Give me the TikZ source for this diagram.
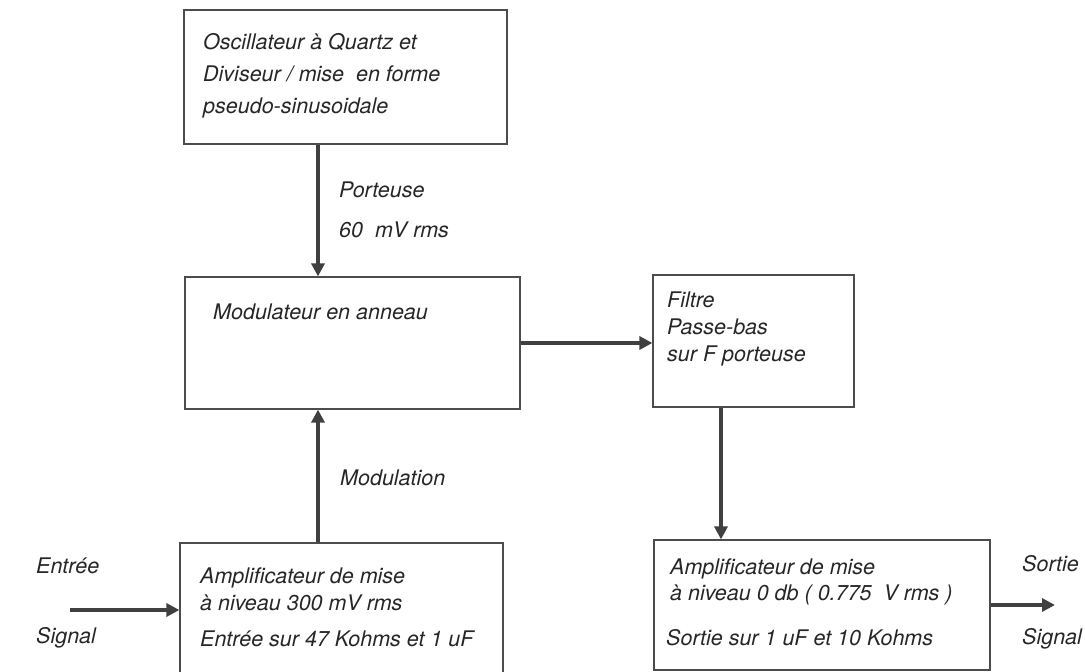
\documentclass[tikz,border=0pt]{standalone}
\usepackage{fontspec}
\setmainfont{TeX Gyre Heros}
\usetikzlibrary{arrows.meta, positioning}

\begin{document}
\begin{tikzpicture}[
        x = 1pt, y = -1pt,
        >= {Triangle[length = 13pt, width = 13pt]},
        font = \fontsize{21.5}{25}\selectfont\itshape,
        block/.style = {draw = black!70, line width = 1.2pt, rectangle, inner sep = 0pt},
        txt/.style = {anchor = west, align = left, inner sep = 0pt, text = black!85},
        wire/.style = {->, black!75, line width = 3.5pt}
    ]

    \useasboundingbox (0,0) rectangle (1085,672);

    % blocks
    \node[block, minimum width = 323pt, minimum height = 134pt] (osc)    at (345.5,77)  {};
    \node[block, minimum width = 335pt, minimum height = 132pt] (mod)    at (352.5,343) {};
    \node[block, minimum width = 201pt, minimum height = 132pt] (filt)   at (753.5,341) {};
    \node[block, minimum width = 323pt, minimum height = 134pt] (ampin)  at (341.5,610) {};
    \node[block, minimum width = 336pt, minimum height = 130pt] (ampout) at (822,605)   {};

    % texts inside the blocks
    \node[txt] (osctext)    at (203,76)    {Oscillateur à Quartz et\\[7pt]Diviseur / mise~ en forme\\[7pt]pseudo-sinusoidale};
    \node[txt] (modtext)    at (213,312)   {Modulateur en anneau};
    \node[txt] (filttext)   at (667,329)   {Filtre\\[2pt]Passe-bas\\[2pt]sur F porteuse};
    \node[txt] (ampintext)  at (200,607)   {Amplificateur de mise\\[2pt]à niveau 300 mV rms\\[11pt]Entrée sur 47 Kohms et 1 uF};
    \node[txt] (ampouttext) at (670,602.5) {Amplificateur de mise\\[1pt]à niveau 0 db ( 0.775~ V rms )\\[20pt]\hspace*{-4pt}Sortie sur 1 uF et 10 Kohms};

    % signal labels
    \node[txt] (carrier)  at (339,210)  {Porteuse\\[15pt]60~ mV rms};
    \node[txt] (modlabel) at (340,478)  {Modulation};
    \node[txt] (inlabel)  at (36,603)   {Entrée\\[45pt]Signal};
    \node[txt] (outlabel) at (1022,602) {Sortie\\[48pt]Signal};

    \coordinate (mx)    at (318,0);
    \coordinate (fx)    at (721,0);
    \coordinate (inpt)  at (70,610);
    \coordinate (outpt) at (1055,605);

    \path[wire]
        (osc.south -| mx)   edge (mod.north -| mx)
        (ampin.north -| mx) edge (mod.south -| mx)
        (mod.east)          edge (filt.west |- mod.east)
        (filt.south -| fx)  edge (ampout.north -| fx)
        (inpt)              edge (ampin.west)
        (ampout.east)       edge (outpt);

\end{tikzpicture}
\end{document}
